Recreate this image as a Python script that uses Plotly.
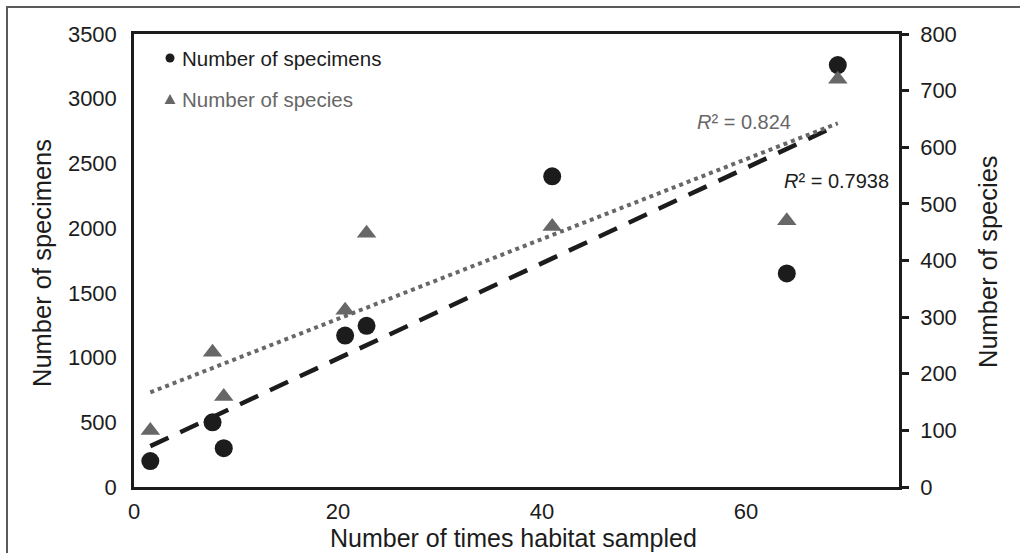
import numpy as np
import plotly.graph_objects as go

# Habitat sampling effort vs. specimens and species recovered
times_sampled = [1.6, 7.7, 8.8, 20.7, 22.8, 41, 64, 69]
n_specimens = [200, 500, 300, 1170, 1245, 2400, 1650, 3260]
n_species = [100, 238, 160, 312, 448, 460, 470, 720]

left_ticks = [0, 500, 1000, 1500, 2000, 2500, 3000, 3500]
right_ticks = [0, 100, 200, 300, 400, 500, 600, 700, 800]
x_ticks = [0, 20, 40, 60]

r2_specimens = "0.7938"
r2_species = "0.824"

FONT = "Liberation Sans, Arial, sans-serif"
INK = "#1c1c1c"
GREY = "#676767"

x = np.array(times_sampled, dtype=float)
xs = np.array([x.min(), x.max()])

# Linear trendlines (least squares) for each series
a1, b1 = np.polyfit(x, np.array(n_specimens, dtype=float), 1)
a2, b2 = np.polyfit(x, np.array(n_species, dtype=float), 1)

fig = go.Figure()

fig.add_trace(go.Scatter(
    x=xs, y=a2 * xs + b2, mode="lines", yaxis="y2",
    line=dict(color=GREY, width=4, dash="dot"),
    showlegend=False, hoverinfo="skip"))
fig.add_trace(go.Scatter(
    x=xs, y=a1 * xs + b1, mode="lines",
    line=dict(color=INK, width=4.5, dash="20px,13px"),
    showlegend=False, hoverinfo="skip"))

fig.add_trace(go.Scatter(
    x=times_sampled, y=n_specimens, mode="markers", name="Number of specimens",
    marker=dict(symbol="circle", size=18, color=INK),
    showlegend=False))
fig.add_trace(go.Scatter(
    x=times_sampled, y=n_species, mode="markers", name="Number of species",
    yaxis="y2",
    marker=dict(symbol="triangle-up", size=17, color=GREY),
    showlegend=False))

axis_line = dict(showline=True, linecolor=INK, linewidth=2.5,
                 showgrid=False, zeroline=False)

fig.update_layout(
    width=1020, height=553,
    margin=dict(l=134, r=121, t=34, b=66),
    paper_bgcolor="white", plot_bgcolor="white",
    font=dict(family=FONT, color=INK, size=22),
    xaxis=dict(range=[0, 75], tickvals=x_ticks, ticks="",
               mirror=True, tickfont=dict(size=22, color=INK),
               ticklabelstandoff=3, **axis_line),
    yaxis=dict(range=[0, 3500], tickvals=left_ticks, ticks="",
               tickfont=dict(size=22, color=INK), ticklabelstandoff=10,
               **axis_line),
    yaxis2=dict(range=[0, 800], tickvals=right_ticks, overlaying="y",
                side="right", ticks="outside", ticklen=7, tickwidth=2.5,
                tickcolor=INK, tickfont=dict(size=22, color=INK),
                ticklabelstandoff=7, **axis_line),
)

# Outer figure frame (top and left edges)
fig.add_shape(type="path", xref="paper", yref="paper",
              path="M -0.166,-0.3 L -0.166,1.0596 L 1.3,1.0596",
              line=dict(color="#5a5a5a", width=2))

# Legend drawn in the top-left corner of the plot area
fig.add_shape(type="circle", xref="paper", yref="paper",
              x0=(165.5 - 134) / 765, x1=(174.5 - 134) / 765,
              y0=(487 - 62.5) / 453, y1=(487 - 53.5) / 453,
              fillcolor=INK, line=dict(width=0))
tx0 = (164.5 - 134) / 765
tx1 = (175.5 - 134) / 765
fig.add_shape(type="path", xref="paper", yref="paper",
              path=f"M {tx0},{(487 - 104) / 453} L {tx1},{(487 - 104) / 453} "
                   f"L {(tx0 + tx1) / 2},{(487 - 94) / 453} Z",
              fillcolor=GREY, line=dict(width=0))
fig.add_annotation(xref="paper", yref="paper", x=(180 - 134) / 765,
                   y=(487 - 58) / 453, xanchor="left", yanchor="middle",
                   text="Number of specimens", showarrow=False,
                   font=dict(size=20.5, color=INK))
fig.add_annotation(xref="paper", yref="paper", x=(180 - 134) / 765,
                   y=(487 - 100) / 453, xanchor="left", yanchor="middle",
                   text="Number of species", showarrow=False,
                   font=dict(size=20.5, color=GREY))

# R² labels for the two trendlines
fig.add_annotation(xref="x", yref="y", x=55.0, y=2821, xanchor="left",
                   yanchor="middle", showarrow=False,
                   text=f"<i>R</i>² = {r2_species}",
                   font=dict(size=20, color=GREY))
fig.add_annotation(xref="x", yref="y", x=63.5, y=2365, xanchor="left",
                   yanchor="middle", showarrow=False,
                   text=f"<i>R</i>² = {r2_specimens}",
                   font=dict(size=20, color=INK))

# Axis titles
fig.add_annotation(xref="paper", yref="paper", x=(513 - 134) / 765,
                   y=(487 - 538) / 453, xanchor="center", yanchor="middle",
                   text="Number of times habitat sampled", showarrow=False,
                   font=dict(size=25, color=INK))
fig.add_annotation(xref="paper", yref="paper", x=(42 - 134) / 765,
                   y=(487 - 263) / 453, xanchor="center", yanchor="middle",
                   text="Number of specimens", textangle=-90, showarrow=False,
                   font=dict(size=25.5, color=INK))
fig.add_annotation(xref="paper", yref="paper", x=(988 - 134) / 765,
                   y=(487 - 262) / 453, xanchor="center", yanchor="middle",
                   text="Number of species", textangle=-90, showarrow=False,
                   font=dict(size=25.5, color=INK))

fig.write_html("out.html")
